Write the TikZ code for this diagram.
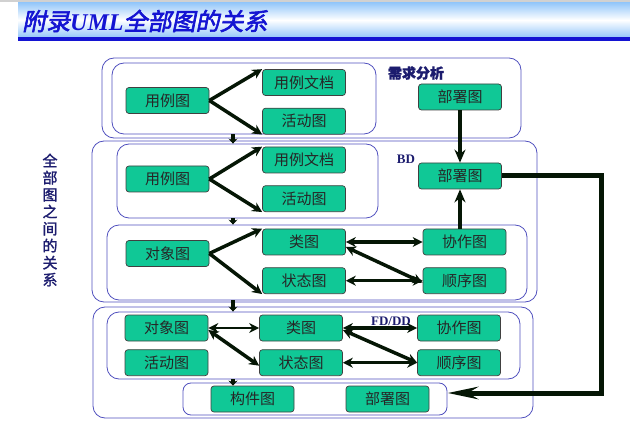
\documentclass[tikz,border=0pt]{standalone}
\usepackage{fontspec}
\setmainfont{Liberation Serif}
\newfontfamily\cjk{Noto Sans CJK SC}
\newfontfamily\cjkneg[FakeBold=1.5]{Noto Sans CJK SC}
\newfontfamily\cjktit[FakeSlant=0.2,FakeBold=2.5]{Noto Sans CJK SC}
\usetikzlibrary{positioning,arrows.meta}
\definecolor{verde}{RGB}{16,200,150}
\definecolor{marco}{RGB}{80,80,190}
\definecolor{tinta}{RGB}{28,28,110}
\definecolor{punta}{RGB}{5,22,5}
\definecolor{celeste}{RGB}{150,200,250}
\definecolor{azul}{RGB}{20,20,210}

\begin{document}
\begin{tikzpicture}[
  x=1pt, y=-1pt,
  font=\cjk\fontsize{15}{17}\selectfont,
  caja/.style={draw=black!75, fill=verde, rounded corners=3pt, line width=0.7pt, minimum width=83pt, minimum height=26pt, inner sep=1pt, text=black!85},
  grupo/.style={draw=marco, rounded corners=12pt, line width=0.8pt, inner sep=0pt},
  flecha/.style={-{Stealth[length=10pt,width=10pt]}, line width=3.5pt, punta},
  doble/.style={{Stealth[length=10pt,width=10pt]}-{Stealth[length=10pt,width=10pt]}, line width=3.5pt, punta},
  bajada/.style={-{Stealth[length=5pt,width=9pt]}, line width=3.5pt, punta},
  subida/.style={-{Stealth[length=13pt,width=11pt]}, line width=4pt, punta},
  gruesa/.style={-{Stealth[length=30pt,width=12pt]}, line width=5pt, punta},
  etiqueta/.style={text=tinta, font=\bfseries\fontsize{14}{16}\selectfont},
  node distance=12pt
]
\useasboundingbox (0,0) rectangle (630,425);

% Banda del titulo
\fill[black!18] (0,0) rectangle (630,2);
\shade[top color=celeste, bottom color=celeste, middle color=white] (18,3) rectangle (630,37);
\fill[azul] (18,37) rectangle (630,41);
\node[anchor=west, text=azul, inner sep=0pt, font=\cjktit\fontsize{24}{26}\selectfont] (titulo) at (22,21) {附录{\rmfamily\bfseries\itshape UML}全部图的关系};

% Texto lateral
\node[text=tinta, align=center, inner sep=0pt, font=\cjkneg\fontsize{15}{17}\selectfont] (lado) at (50,220) {全\\部\\图\\之\\间\\的\\关\\系};

% Marcos
\node[grupo, minimum width=419pt, minimum height=80pt] (req) at (311.5,98) {};
\node[grupo, minimum width=264pt, minimum height=71pt] (req-in) at (244,98.5) {};
\node[grupo, minimum width=445pt, minimum height=161pt] (bd) at (314.5,221.5) {};
\node[grupo, minimum width=261pt, minimum height=74pt] (bd-a) at (247.5,181) {};
\node[grupo, minimum width=420pt, minimum height=75pt] (bd-b) at (317,262.5) {};
\node[grupo, minimum width=440pt, minimum height=111pt] (fd) at (313,362.5) {};
\node[grupo, minimum width=413pt, minimum height=67pt] (fd-a) at (313.5,345.5) {};
\node[grupo, minimum width=264pt, minimum height=32pt, rounded corners=8pt] (fd-b) at (315,399) {};

% Etiquetas de fase
\node[etiqueta] (lreq) at (416,73) {\cjkneg 需求分析};
\node[etiqueta, font=\bfseries\fontsize{13}{15}\selectfont] (lbd) at (406,159) {BD};
\node[etiqueta, font=\bfseries\fontsize{13}{15}\selectfont] (lfd) at (391,321) {FD/DD};

% Requisitos
\node[caja] (uc1) at (167.5,100.5) {用例图};
\node[caja] (doc1) at (304,82.5) {用例文档};
\node[caja, below=of doc1] (act1) {活动图};
\node[caja] (dep1) at (460,97) {部署图};

% BD: casos de uso
\node[caja] (uc2) at (167.5,179) {用例图};
\node[caja] (doc2) at (304,160) {用例文档};
\node[caja, below=of doc2] (act2) {活动图};
\node[caja] (dep2) at (460,176) {部署图};

% BD: objetos
\node[caja] (obj2) at (167.5,253.5) {对象图};
\node[caja] (cls2) at (304,242) {类图};
\node[caja, below=of cls2] (st2) {状态图};
\node[caja] (col2) at (464.5,242) {协作图};
\node[caja, below=of col2] (seq2) {顺序图};

% FD/DD
\node[caja] (obj3) at (166.5,328) {对象图};
\node[caja, below=8pt of obj3] (act3) {活动图};
\node[caja] (cls3) at (301,328) {类图};
\node[caja, below=8pt of cls3] (st3) {状态图};
\node[caja] (col3) at (459,328) {协作图};
\node[caja, below=8pt of col3] (seq3) {顺序图};
\node[caja] (cmp4) at (252.5,399) {构件图};
\node[caja] (dep4) at (387.5,399) {部署图};

% Flechas
\draw[flecha] (uc1.east) -- (doc1.north west);
\draw[flecha] (uc1.east) -- (act1.south west);
\draw[flecha] (uc2.east) -- (doc2.north west);
\draw[flecha] (uc2.east) -- (act2.south west);
\draw[flecha] (obj2.east) -- (cls2.north west);
\draw[flecha] (obj2.east) -- (st2.south west);
\draw[doble] (cls2.east) -- (col2.west);
\draw[doble] (st2.east) -- (seq2.west);
\draw[doble] ([yshift=-5pt]cls2.east) -- ([yshift=-2pt]seq2.west);
\draw[doble, line width=2.5pt] (obj3.east) -- (cls3.west);
\draw[doble] ([yshift=-2pt]obj3.east) -- ([yshift=-3pt]st3.west);
\draw[doble] (cls3.east) -- (col3.west);
\draw[doble] ([yshift=-2pt]cls3.east) -- (seq3.west);
\draw[doble] (st3.east) -- (seq3.west);

\draw[subida] (dep1) -- (dep2);
\draw[subida] (col2.north -| dep2) -- (dep2.south);

\coordinate (eje) at (233,0);
\draw[bajada] (req-in.south -| eje) -- (bd-a.north -| eje);
\draw[bajada] (bd-a.south -| eje) -- (bd-b.north -| eje);
\draw[bajada] (bd-b.south -| eje) -- (fd-a.north -| eje);
\draw[bajada] (fd-a.south -| eje) -- (cmp4.north -| eje);

\coordinate (codo) at (601,393);
\draw[gruesa] (dep2.east) -| (codo) -- (codo -| fd-b.east);
\end{tikzpicture}
\end{document}
